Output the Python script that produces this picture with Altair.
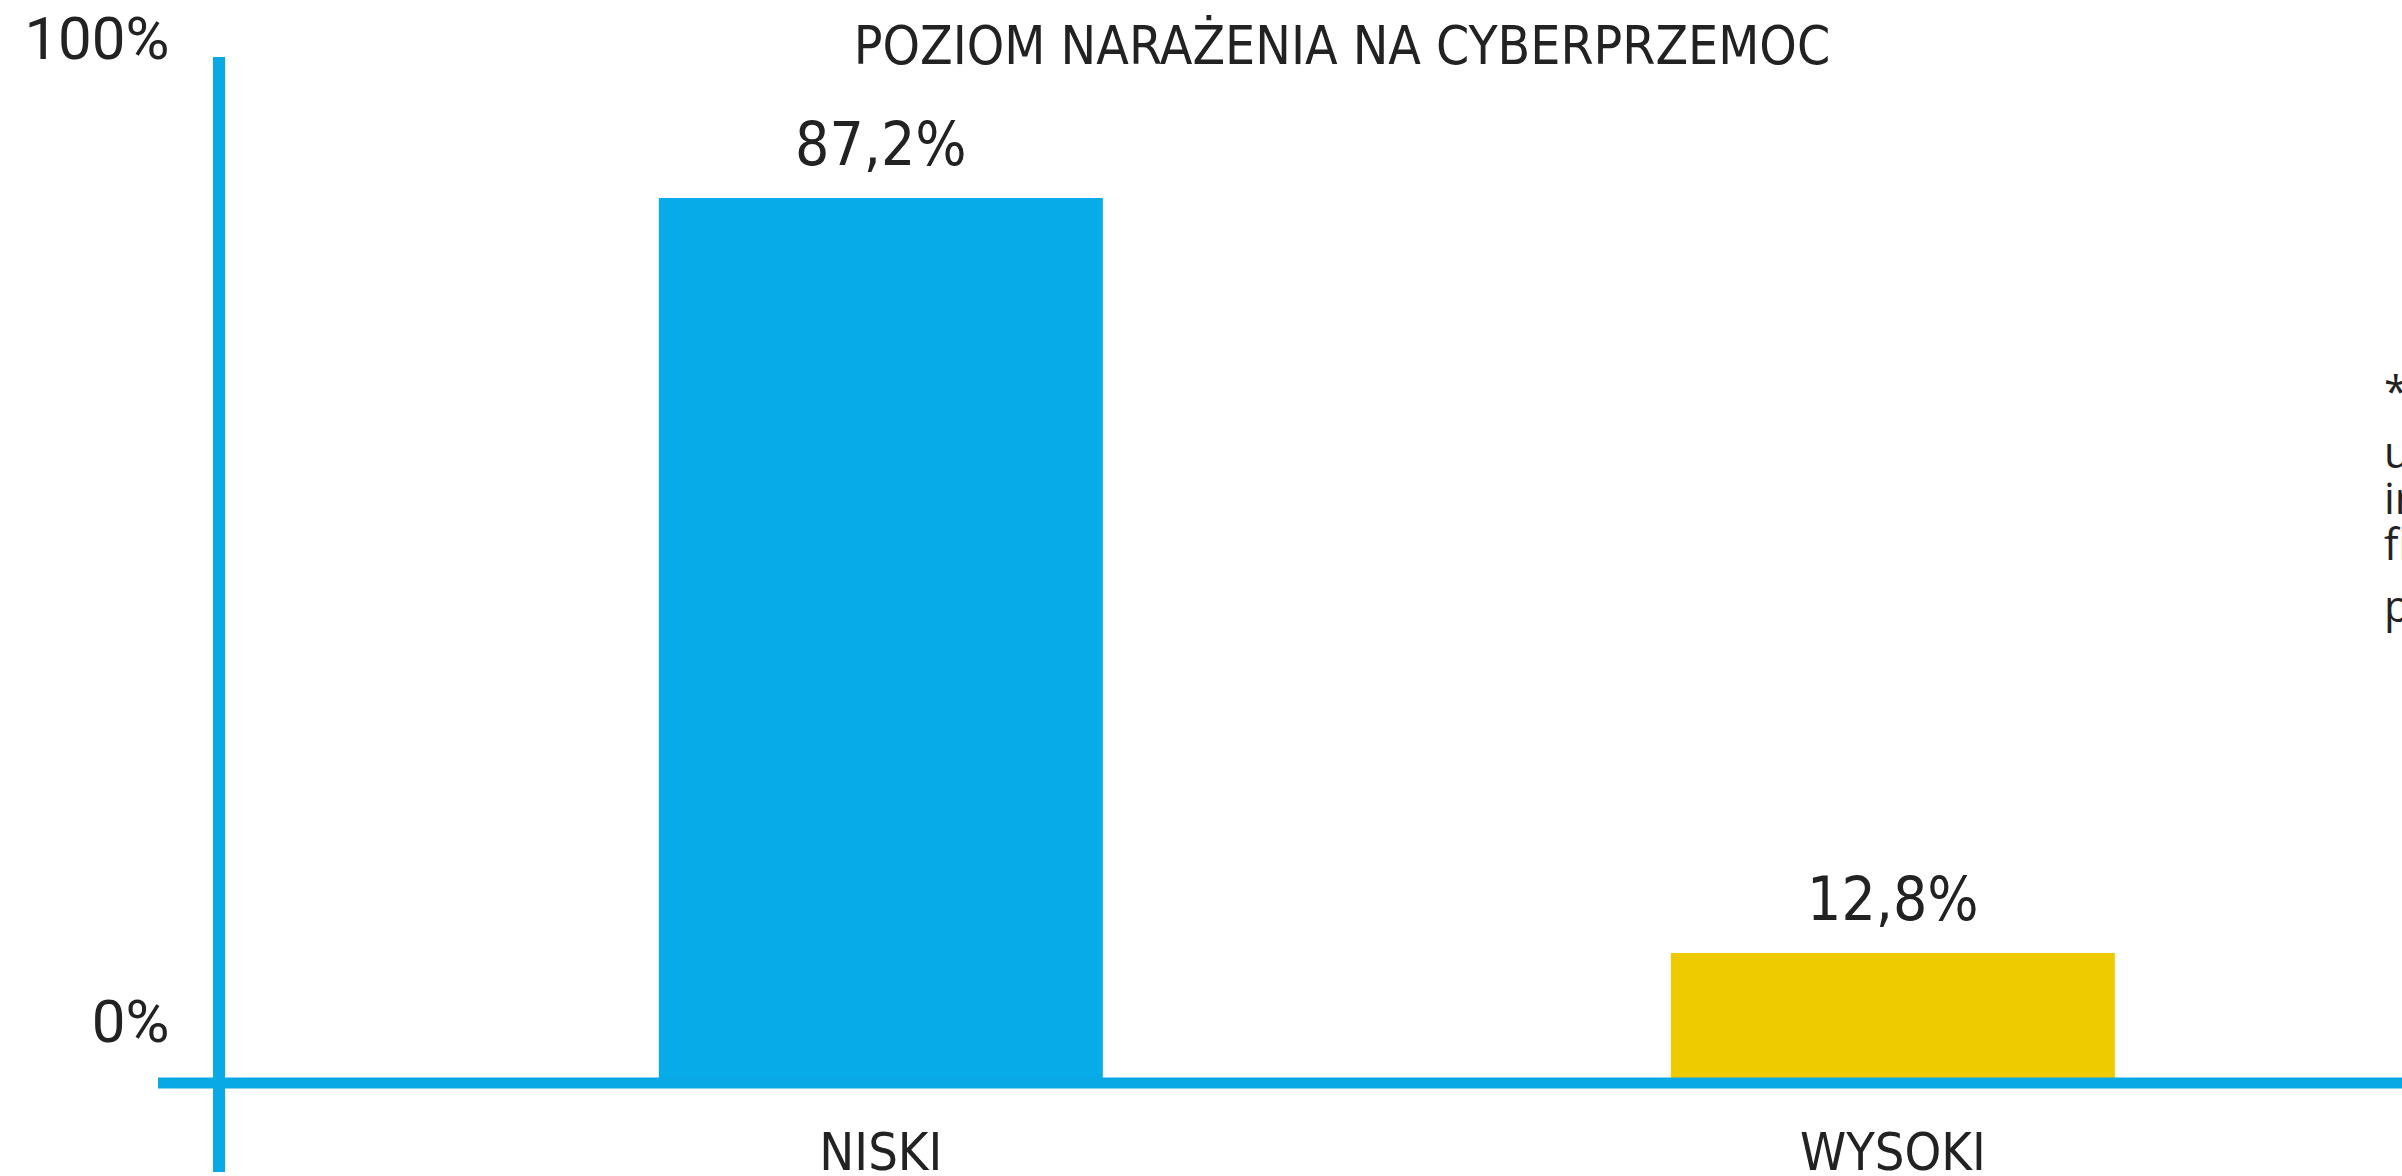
import altair as alt
import pandas as pd

categories = ["NISKI", "WYSOKI"]
values = [87.2, 12.8]
bar_colors = ["#07ABE7", "#EECA00"]
y_ticks = [0, 100]
title_text = "POZIOM NARAŻENIA NA CYBERPRZEMOC"
footnote_star = "*"
footnote_lines = ["uczniowie korzystający z", "internetu, doświadczający", "fizycznej lub psychicznej"]
footnote_last = "przemocy w sieci"

AXIS_BLUE = "#08A9E5"
TEXT = "#222222"
COND = "DejaVu Sans Condensed"

W, H = 2183, 1015
PAD = {"left": 219, "top": 68, "right": 0, "bottom": 93}

df = pd.DataFrame({"kategoria": categories, "wartosc": values})

x_enc = alt.X(
    "kategoria:N",
    sort=categories,
    scale=alt.Scale(paddingInner=0.5613, paddingOuter=0.3592, align=0.605),
    axis=alt.Axis(
        title=None, domain=False, ticks=False, labelAngle=0,
        labelFont=COND, labelFontSize=52, labelColor=TEXT,
        labelPadding=45, labelLimit=0,
    ),
)
y_enc = alt.Y(
    "wartosc:Q",
    scale=alt.Scale(domain=[0, 100], nice=False),
    axis=alt.Axis(
        title=None, domain=False, ticks=False, grid=False,
        values=y_ticks, labelExpr="datum.value + '%'",
        labelFont="Roboto", labelFontWeight=400, labelFontSize=60, labelColor=TEXT,
        labelPadding=50, labelLimit=0,
        labelOffset={"condition": {"test": "datum.value == 0", "value": -60}, "value": -28},
    ),
)

base = alt.Chart(df)

bars = base.mark_bar().encode(
    x=x_enc,
    y=y_enc,
    color=alt.Color("kategoria:N", scale=alt.Scale(domain=categories, range=bar_colors), legend=None),
)

labels = base.transform_calculate(
    label="replace(format(datum.wartosc, '.1f'), '.', ',') + '%'"
).mark_text(
    font=COND, fontSize=60, color=TEXT, baseline="middle", dy=-51
).encode(
    x=alt.X("kategoria:N", sort=categories),
    y=alt.Y("wartosc:Q"),
    text="label:N",
)

zero_df = pd.DataFrame({"z": [0]})
h_rule = alt.Chart(zero_df).mark_rule(color=AXIS_BLUE, strokeWidth=11).encode(
    y=alt.Y("z:Q"), x=alt.value(-61), x2=alt.value(W)
)
v_rule = alt.Chart(zero_df).mark_rule(color=AXIS_BLUE, strokeWidth=12).encode(
    x=alt.value(0), y=alt.value(-11), y2=alt.value(1104)
)

title = alt.Chart(pd.DataFrame({"t": [title_text]})).mark_text(
    font=COND, fontSize=53, color=TEXT, align="center", baseline="alphabetic"
).encode(text="t:N", x=alt.value(1123), y=alt.value(-4))

foot_style = dict(font="Open Sans", fontSize=43, color=TEXT, align="left", baseline="alphabetic")

star = alt.Chart(pd.DataFrame({"t": [footnote_star]})).mark_text(**foot_style).encode(
    text="t:N", x=alt.value(2165), y=alt.value(339)
)

foot = alt.Chart(pd.DataFrame({"t": ["\n".join(footnote_lines)]})).mark_text(
    lineBreak="\n", lineHeight=46, **foot_style
).encode(text="t:N", x=alt.value(2165), y=alt.value(400))

foot_last = alt.Chart(pd.DataFrame({"t": [footnote_last]})).mark_text(**foot_style).encode(
    text="t:N", x=alt.value(2165), y=alt.value(554)
)

chart = alt.layer(bars, labels, h_rule, v_rule, title, star, foot, foot_last).properties(
    width=W, height=H,
    autosize=alt.AutoSizeParams(type="none"),
    padding=PAD,
    background="white",
).configure_view(stroke=None)

chart.save("out.html", embed_options={"renderer": "svg", "actions": False})
